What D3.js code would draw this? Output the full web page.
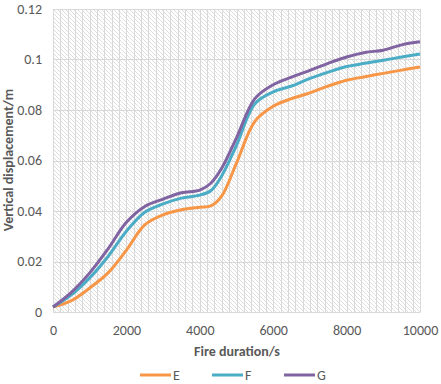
<!DOCTYPE html>
<html>
<head>
<meta charset="utf-8">
<script src="https://cdn.jsdelivr.net/npm/d3@7"></script>
<style>
body { margin: 0; background: #fff; }
text { font-family: Calibri, Carlito, "Liberation Sans", Arial, sans-serif; fill: #595959; }
</style>
</head>
<body>
<svg width="441" height="384"></svg>
<script>
"use strict"

var times = [0, 500, 1000, 1500, 2000, 2500, 3000, 3500, 4000, 4300, 4600, 5000,
             5500, 6000, 6500, 7000, 7500, 8000, 8500, 9000, 9500, 10000];
var seriesE = [0.002, 0.0045, 0.0095, 0.0155, 0.0245, 0.0345, 0.0385, 0.0405, 0.0415, 0.042, 0.046, 0.059,
               0.0755, 0.0815, 0.0845, 0.0868, 0.0895, 0.0918, 0.0932, 0.0945, 0.0958, 0.097];
var seriesF = [0.002, 0.0068, 0.0135, 0.022, 0.032, 0.0395, 0.0428, 0.0451, 0.0463, 0.048, 0.054, 0.066,
               0.0825, 0.0872, 0.0895, 0.0925, 0.095, 0.0972, 0.0985, 0.0997, 0.101, 0.1022];
var seriesG = [0.002, 0.0078, 0.0155, 0.025, 0.0355, 0.0418, 0.0447, 0.0472, 0.0483, 0.051, 0.057, 0.069,
               0.0845, 0.09, 0.093, 0.0957, 0.0985, 0.101, 0.1028, 0.1037, 0.1058, 0.107];
var names = ["E", "F", "G"];
var colors = ["#F79646", "#4BACC6", "#8064A2"];
var xTicks = [0, 2000, 4000, 6000, 8000, 10000];
var yTicks = [0, 0.02, 0.04, 0.06, 0.08, 0.1, 0.12];

var draw_chart = function() {
    var svg = d3.select("svg");
    var pl = 53, pt = 9, pr = 420, pb = 312;
    var font = "Calibri, Carlito, 'Liberation Sans', Arial, sans-serif";

    var x = d3.scaleLinear().domain([0, 10000]).range([pl, pr]);
    var y = d3.scaleLinear().domain([0, 0.12]).range([pb, pt]);

    /* hatched plot background */
    var pat = svg.append("defs").append("pattern")
        .attr("id", "hatch")
        .attr("patternUnits", "userSpaceOnUse")
        .attr("width", 4).attr("height", 4);
    pat.append("rect").attr("width", 4).attr("height", 4).attr("fill", "#fff");
    pat.append("path")
        .attr("d", "M-1,-1 L5,5 M-1,3 L1,5 M3,-1 L5,1")
        .attr("stroke", "#d6d6d6").attr("stroke-width", 0.8);

    svg.append("rect")
        .attr("x", pl).attr("y", pt)
        .attr("width", pr - pl).attr("height", pb - pt)
        .attr("fill", "url(#hatch)");

    var grid = svg.append("g").attr("stroke", "#d9d9d9").attr("stroke-width", 1);
    grid.selectAll("line.v").data(d3.range(0, 10001, 200)).enter().append("line")
        .attr("class", "v")
        .attr("x1", function(d) { return Math.round(x(d)) + 0.5; })
        .attr("x2", function(d) { return Math.round(x(d)) + 0.5; })
        .attr("y1", pt).attr("y2", pb);
    grid.selectAll("line.h").data(yTicks).enter().append("line")
        .attr("class", "h")
        .attr("x1", pl).attr("x2", pr)
        .attr("y1", function(d) { return Math.round(y(d)) + 0.5; })
        .attr("y2", function(d) { return Math.round(y(d)) + 0.5; });

    /* axes */
    var xAxis = svg.append("g")
        .attr("transform", "translate(0," + pb + ")")
        .call(d3.axisBottom(x).tickValues(xTicks).tickSize(0).tickPadding(13)
            .tickFormat(d3.format("d")));
    xAxis.select(".domain").attr("stroke", "#d9d9d9");
    xAxis.selectAll("text").attr("font-size", 14).attr("fill", "#595959")
        .style("font-family", font);

    var yAxis = svg.append("g")
        .attr("transform", "translate(" + pl + ",0)")
        .call(d3.axisLeft(y).tickValues(yTicks).tickSize(0).tickPadding(11)
            .tickFormat(function(d) { return d3.format("~g")(d); }));
    yAxis.select(".domain").remove();
    yAxis.selectAll("text").attr("font-size", 14).attr("fill", "#595959")
        .style("font-family", font);

    svg.append("text")
        .attr("x", 237).attr("y", 356)
        .attr("text-anchor", "middle")
        .attr("font-size", 14).attr("font-weight", "bold")
        .text("Fire duration/s");

    svg.append("text")
        .attr("transform", "translate(13,160) rotate(-90)")
        .attr("text-anchor", "middle")
        .attr("font-size", 14).attr("font-weight", "bold")
        .text("Vertical displacement/m");

    /* lines */
    var line = d3.line()
        .x(function(d) { return x(d[0]); })
        .y(function(d) { return y(d[1]); })
        .curve(d3.curveCatmullRom.alpha(0.5));

    [seriesE, seriesF, seriesG].forEach(function(s, i) {
        svg.append("path")
            .datum(times.map(function(t, j) { return [t, s[j]]; }))
            .attr("fill", "none")
            .attr("stroke", colors[i])
            .attr("stroke-width", 3)
            .attr("stroke-linejoin", "round")
            .attr("d", line);
    });

    /* legend */
    var legX = [140, 212, 284];
    var leg = svg.append("g");
    names.forEach(function(n, i) {
        leg.append("line")
            .attr("x1", legX[i]).attr("x2", legX[i] + 31)
            .attr("y1", 375).attr("y2", 375)
            .attr("stroke", colors[i]).attr("stroke-width", 3);
        leg.append("text")
            .attr("x", legX[i] + 33).attr("y", 380)
            .attr("font-size", 14)
            .text(n);
    });
}

draw_chart();
</script>
</body>
</html>
